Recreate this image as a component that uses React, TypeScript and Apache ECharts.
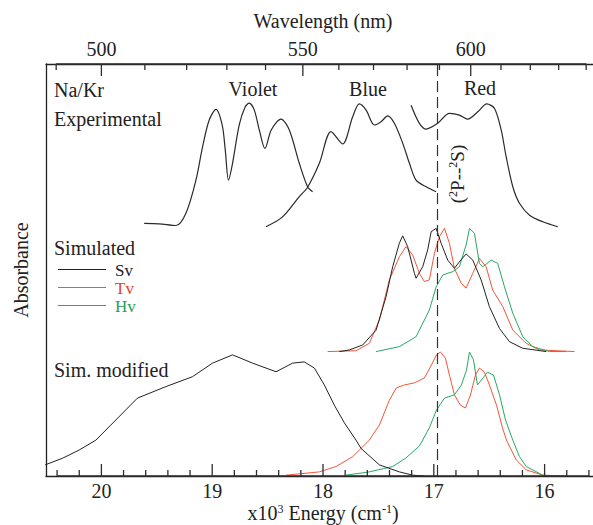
import React, { useEffect, useRef } from "react";
import * as echarts from "echarts";

// Energies in 10^3 cm^-1, absorbance in arbitrary units (panels stacked with offsets).
const violetExp: [number, number][] = [
  [19.614, 6.13], [19.479, 6.12], [19.328, 6.08], [19.237, 6.38], [19.147, 7.18],
  [19.087, 7.99], [19.027, 8.64], [18.966, 8.9], [18.91, 8.52], [18.882, 7.91],
  [18.853, 7.18], [18.819, 7.55], [18.756, 8.52], [18.702, 8.96], [18.666, 9.05],
  [18.62, 8.88], [18.575, 8.4], [18.524, 7.95], [18.467, 8.4], [18.379, 8.66],
  [18.304, 8.4], [18.214, 7.59], [18.139, 7.02], [18.094, 6.9],
];

const blueExp: [number, number][] = [
  [18.515, 6.05], [18.365, 6.29], [18.214, 6.78], [18.139, 7.01], [18.033, 7.59],
  [17.928, 8.36], [17.823, 8.06], [17.732, 8.72], [17.672, 9.03], [17.611, 8.88],
  [17.536, 8.52], [17.476, 8.6], [17.416, 8.74], [17.356, 8.56], [17.281, 8.08],
  [17.22, 7.59], [17.16, 7.18], [17.069, 7.02], [16.979, 6.9],
];

const redExp: [number, number][] = [
  [17.205, 9.0], [17.13, 8.56], [17.069, 8.42], [16.965, 8.56], [16.859, 8.8],
  [16.769, 8.76], [16.694, 8.66], [16.603, 8.84], [16.522, 9.03], [16.452, 8.92],
  [16.392, 8.4], [16.347, 7.75], [16.287, 7.02], [16.227, 6.62], [16.136, 6.33],
  [16.016, 6.17], [15.881, 6.05],
];

const simSv: [number, number][] = [
  [17.853, 3.02], [17.762, 3.06], [17.642, 3.18], [17.521, 3.54], [17.431, 4.35],
  [17.371, 5.08], [17.311, 5.65], [17.281, 5.83], [17.236, 5.57], [17.175, 4.92],
  [17.16, 4.8], [17.1, 5.08], [17.055, 5.49], [17.024, 5.93], [16.979, 6.01],
  [16.934, 5.65], [16.874, 5.24], [16.814, 5.04], [16.769, 5.2], [16.708, 5.39],
  [16.648, 5.24], [16.573, 4.76], [16.498, 4.11], [16.407, 3.58], [16.317, 3.26],
  [16.197, 3.1], [15.985, 3.02],
];

const simTv: [number, number][] = [
  [17.958, 3.02], [17.702, 3.04], [17.582, 3.22], [17.491, 3.79], [17.401, 4.76],
  [17.311, 5.32], [17.25, 5.57], [17.19, 5.36], [17.13, 4.92], [17.085, 4.72],
  [17.04, 4.76], [16.994, 5.41], [16.949, 5.81], [16.904, 6.01], [16.859, 5.65],
  [16.814, 5.04], [16.753, 4.68], [16.708, 4.56], [16.648, 4.92], [16.588, 5.28],
  [16.528, 5.08], [16.468, 4.51], [16.377, 4.11], [16.287, 3.54], [16.166, 3.22],
  [16.046, 3.06], [15.73, 3.02],
];

const simHv: [number, number][] = [
  [17.521, 3.02], [17.311, 3.14], [17.16, 3.38], [17.04, 4.03], [16.979, 4.59],
  [16.919, 4.88], [16.829, 4.96], [16.769, 5.08], [16.708, 5.61], [16.678, 6.01],
  [16.633, 5.89], [16.588, 5.16], [16.558, 5.08], [16.482, 5.24], [16.423, 5.16],
  [16.362, 4.59], [16.287, 3.95], [16.197, 3.38], [16.106, 3.14], [15.956, 3.02],
  [15.805, 3.02],
];

const modSv: [number, number][] = [
  [20.508, 0.27], [20.352, 0.43], [20.201, 0.63], [20.05, 0.87], [19.675, 1.89],
  [19.418, 2.17], [19.178, 2.41], [18.997, 2.74], [18.816, 2.94], [18.636, 2.74],
  [18.424, 2.53], [18.274, 2.74], [18.169, 2.77], [18.078, 2.62], [17.988, 2.21],
  [17.898, 1.72], [17.807, 1.29], [17.702, 0.87], [17.657, 0.67], [17.491, 0.27],
  [17.311, 0.1], [17.19, 0.02], [17.085, 0],
];

const modTv: [number, number][] = [
  [18.334, 0.02], [18.033, 0.1], [17.882, 0.23], [17.732, 0.47], [17.642, 0.71],
  [17.582, 0.87], [17.491, 1.24], [17.401, 1.84], [17.338, 2.14], [17.265, 2.21],
  [17.175, 2.26], [17.085, 2.38], [17.022, 2.69], [16.976, 2.94], [16.94, 3.01],
  [16.895, 2.86], [16.859, 2.45], [16.814, 1.97], [16.76, 1.72], [16.714, 1.65],
  [16.669, 1.97], [16.624, 2.45], [16.588, 2.62], [16.543, 2.52], [16.498, 2.21],
  [16.434, 1.72], [16.38, 1.17], [16.344, 0.87], [16.256, 0.39], [16.166, 0.15],
  [16.016, 0.02], [15.805, 0],
];

const modHv: [number, number][] = [
  [17.792, 0.02], [17.582, 0.1], [17.371, 0.23], [17.25, 0.44], [17.13, 0.73],
  [17.04, 1.17], [16.976, 1.6], [16.904, 1.89], [16.814, 1.97], [16.751, 2.21],
  [16.705, 2.57], [16.678, 3.01], [16.642, 2.82], [16.606, 2.21], [16.57, 2.33],
  [16.516, 2.52], [16.461, 2.45], [16.407, 1.97], [16.353, 1.36], [16.287, 0.87],
  [16.227, 0.47], [16.166, 0.23], [16.016, 0.02], [15.91, 0],
];

// Na atomic 2P-2S resonance line position (10^3 cm^-1)
const naLine = 16.973;

const energyTicks = [16, 17, 18, 19, 20];
const energyMinorTicks = [
  15.6, 15.8, 16.2, 16.4, 16.6, 16.8, 17.2, 17.4, 17.6, 17.8, 18.2, 18.4,
  18.6, 18.8, 19.2, 19.4, 19.6, 19.8, 20.2, 20.4,
];
const wavelengthTicks = [500, 550, 600];
const wavelengthMinorTicks = [
  490, 510, 520, 530, 540, 560, 570, 580, 590, 610, 620, 630, 640,
];

const FONT = "Liberation Serif, DejaVu Serif, serif";
const INK = "#222222";
const TICK = "#2e2e2e";
const RED = "#f2553a";
const GREEN = "#27a862";

const E_MIN = 15.5;
const E_MAX = 20.5;
const Y_MIN = 0;
const Y_MAX = 10;
const GRID = { left: 46, right: -7, top: 64, bottom: 49 };
const PLOT_HEIGHT = 525 - GRID.top - GRID.bottom;
const toEnergy = (nm: number) => 1e4 / nm;

// Tick marks as a comb polyline running along a frame edge:
// each tick goes in from the edge and back out again.
const tickComb = (
  major: number[],
  minor: number[],
  base: number,
  dir: number,
  majorPx: number,
  minorPx: number
): [number, number][] => {
  const unitsPerPx = (Y_MAX - Y_MIN) / PLOT_HEIGHT;
  const all = [
    ...major.map((v) => [v, majorPx] as [number, number]),
    ...minor.map((v) => [v, minorPx] as [number, number]),
  ].sort((a, b) => b[0] - a[0]);
  const pts: [number, number][] = [];
  all.forEach(([v, px]) => {
    pts.push([v, base], [v, base + dir * px * unitsPerPx], [v, base]);
  });
  return pts;
};

export default function App() {
  const ref = useRef<HTMLDivElement>(null);

  useEffect(() => {
    if (!ref.current) return;
    const chart = echarts.init(ref.current, undefined, { renderer: "svg" });

    const axisLineStyle = { color: INK, width: 1.3 };

    const baseX = {
      type: "value" as const,
      min: E_MIN,
      max: E_MAX,
      inverse: true,
      splitLine: { show: false },
      axisTick: { show: false },
      axisLine: { show: true, onZero: false, lineStyle: axisLineStyle },
    };

    const line = (
      name: string,
      data: [number, number][],
      color: string,
      width = 1,
      smooth: number | boolean = false
    ) => ({
      name,
      type: "line",
      data,
      xAxisIndex: 0,
      yAxisIndex: 0,
      symbol: "none",
      showSymbol: false,
      smooth,
      lineStyle: { color, width },
      itemStyle: { color },
      z: 3,
    });

    const ticks = (data: [number, number][]) => ({
      type: "line",
      data,
      xAxisIndex: 0,
      yAxisIndex: 0,
      symbol: "none",
      showSymbol: false,
      silent: true,
      clip: false,
      smooth: false,
      emphasis: { disabled: true },
      lineStyle: { color: TICK, width: 1.3 },
      z: 4,
    });

    const labels: any[] = [
      { type: "text", x: 54, y: 90, style: { text: "Na/Kr", font: `20px ${FONT}`, fill: INK, verticalAlign: "middle" } },
      { type: "text", x: 253, y: 89, style: { text: "Violet", font: `20px ${FONT}`, fill: INK, align: "center", verticalAlign: "middle" } },
      { type: "text", x: 368, y: 89, style: { text: "Blue", font: `20px ${FONT}`, fill: INK, align: "center", verticalAlign: "middle" } },
      { type: "text", x: 480, y: 88, style: { text: "Red", font: `20px ${FONT}`, fill: INK, align: "center", verticalAlign: "middle" } },
      { type: "text", x: 54, y: 119, style: { text: "Experimental", font: `20px ${FONT}`, fill: INK, verticalAlign: "middle" } },
      { type: "text", x: 54, y: 248, style: { text: "Simulated", font: `20px ${FONT}`, fill: INK, verticalAlign: "middle" } },
      { type: "text", x: 54, y: 370, style: { text: "Sim. modified", font: `20px ${FONT}`, fill: INK, verticalAlign: "middle" } },
      { type: "line", shape: { x1: 58, y1: 269.5, x2: 106, y2: 269.5 }, style: { stroke: INK, lineWidth: 1 } },
      { type: "line", shape: { x1: 58, y1: 287.5, x2: 106, y2: 287.5 }, style: { stroke: RED, lineWidth: 1 } },
      { type: "line", shape: { x1: 58, y1: 305.5, x2: 106, y2: 305.5 }, style: { stroke: GREEN, lineWidth: 1 } },
      { type: "text", x: 115, y: 270, style: { text: "Sv", font: `17px ${FONT}`, fill: INK, verticalAlign: "middle" } },
      { type: "text", x: 115, y: 288, style: { text: "Tv", font: `17px ${FONT}`, fill: "#e8402a", verticalAlign: "middle" } },
      { type: "text", x: 115, y: 306, style: { text: "Hv", font: `17px ${FONT}`, fill: "#1f9e55", verticalAlign: "middle" } },
      {
        type: "text",
        x: 457,
        y: 174,
        rotation: Math.PI / 2,
        style: {
          text: "({sup|2}P--{sup|2}S)",
          font: `19px ${FONT}`,
          fill: INK,
          align: "center",
          verticalAlign: "middle",
          rich: { sup: { font: `12px ${FONT}`, fill: INK, verticalAlign: "top", padding: [0, 0, 8, 0] } },
        },
      },
    ];

    chart.setOption({
      animation: false,
      backgroundColor: "#ffffff",
      textStyle: { fontFamily: FONT },
      grid: { ...GRID, containLabel: false, outerBoundsMode: "none" },
      xAxis: [
        {
          ...baseX,
          position: "bottom",
          name: "x10{sup|3} Energy (cm{sup|-1})",
          nameLocation: "middle",
          nameGap: 27,
          nameMoveOverlap: false,
          nameTextStyle: {
            fontFamily: FONT,
            fontSize: 20,
            lineHeight: 20,
            color: INK,
            rich: { sup: { fontFamily: FONT, fontSize: 12, lineHeight: 20, verticalAlign: "top" } },
          },
          axisLabel: { show: true, customValues: energyTicks, margin: 5, fontFamily: FONT, fontSize: 20, color: INK },
        },
        {
          ...baseX,
          position: "top",
          name: "Wavelength (nm)",
          nameLocation: "middle",
          nameGap: 33,
          nameMoveOverlap: false,
          nameTextStyle: { fontFamily: FONT, fontSize: 20, color: INK },
          axisLabel: {
            show: true,
            customValues: wavelengthTicks.map(toEnergy),
            formatter: (v: number) => String(Math.round(1e4 / v)),
            margin: 5,
            fontFamily: FONT,
            fontSize: 20,
            color: INK,
          },
        },
      ],
      yAxis: {
        type: "value",
        min: Y_MIN,
        max: Y_MAX,
        name: "Absorbance",
        nameLocation: "middle",
        nameGap: 15,
        nameTextStyle: { fontFamily: FONT, fontSize: 20, color: INK },
        axisLine: { show: true, lineStyle: axisLineStyle },
        axisTick: { show: false },
        axisLabel: { show: false },
        splitLine: { show: false },
      },
      series: [
        {
          ...line("Violet", violetExp, "#2a2a2a", 1.2, 0.3),
          markLine: {
            silent: true,
            symbol: "none",
            label: { show: false },
            lineStyle: { color: "#333333", width: 1.2, type: [11, 5] },
            data: [{ xAxis: naLine }],
          },
        },
        line("Blue", blueExp, "#2a2a2a", 1.2, 0.3),
        line("Red", redExp, "#2a2a2a", 1.2, 0.3),
        line("Tv", simTv, RED),
        line("Hv", simHv, GREEN),
        line("Sv", simSv, INK),
        line("Tv mod", modTv, RED),
        line("Hv mod", modHv, GREEN),
        line("Sv mod", modSv, INK),
        ticks(tickComb(energyTicks, energyMinorTicks, Y_MIN, 1, 12, 6)),
        ticks(
          tickComb(
            wavelengthTicks.map(toEnergy),
            wavelengthMinorTicks.map(toEnergy),
            Y_MAX,
            -1,
            12,
            6
          )
        ),
      ],
      graphic: labels,
    });

    return () => chart.dispose();
  }, []);

  return (
    <div
      ref={ref}
      style={{ position: "fixed", left: 0, top: 0, width: 593, height: 525, background: "#fff" }}
    />
  );
}
